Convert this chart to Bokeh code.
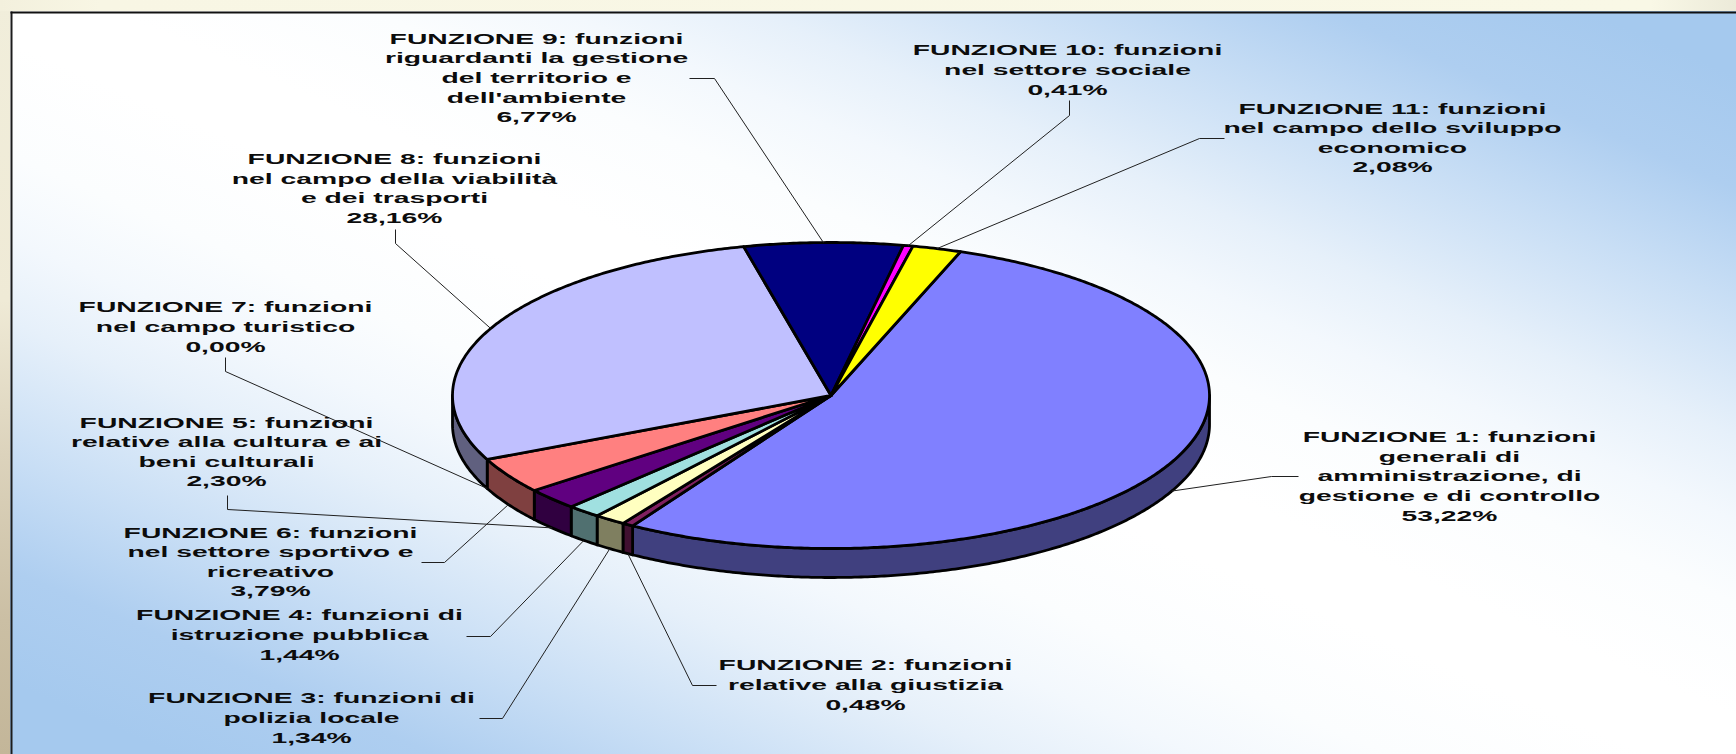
import math
from bokeh.core.properties import value
from bokeh.embed import file_html
from bokeh.models import ColumnDataSource, Range1d
from bokeh.plotting import figure
from bokeh.resources import INLINE

# ---- chart data -----------------------------------------------------------
percent = [53.22, 0.48, 1.34, 1.44, 2.30, 3.79, 0.00, 28.16, 6.77, 0.41, 2.08]
top_colors = ["#8080FF", "#802060", "#FFFFC0", "#A0E0E0", "#600080", "#FF8080",
              "#0080C0", "#C0C0FF", "#000080", "#FF00FF", "#FFFF00"]
names = [
    "FUNZIONE 1: funzioni\ngenerali di\namministrazione, di\ngestione e di controllo",
    "FUNZIONE 2: funzioni\nrelative alla giustizia",
    "FUNZIONE 3: funzioni di\npolizia locale",
    "FUNZIONE 4: funzioni di\nistruzione pubblica",
    "FUNZIONE 5: funzioni\nrelative alla cultura e ai\nbeni culturali",
    "FUNZIONE 6: funzioni\nnel settore sportivo e\nricreativo",
    "FUNZIONE 7: funzioni\nnel campo turistico",
    "FUNZIONE 8: funzioni\nnel campo della viabilità\ne dei trasporti",
    "FUNZIONE 9: funzioni\nriguardanti la gestione\ndel territorio e\ndell'ambiente",
    "FUNZIONE 10: funzioni\nnel settore sociale",
    "FUNZIONE 11: funzioni\nnel campo dello sviluppo\neconomico",
]

# ---- layout (page pixels; Bokeh's page template has no body margin) ---------
W, H = 1736, 754
CX, CY, RX, RY, DEPTH = 830.5, 395.0, 378.5, 153.0, 29.0
FIRST_ANGLE = 20.0
label_x = [1449, 865, 311, 299, 226, 270, 225, 394, 536, 1067, 1392]
label_y = [476, 684.5, 717.5, 634.5, 451.5, 561.5, 326.5, 188, 77.5, 69.5, 137.5]
# leader: start of stub, elbow; the far end is derived from the slice angle
leader_stub = [(1298, 476), (716, 685), (479, 718), (466, 636), (227, 495), (421, 562),
               (225, 357), (395, 229), (689, 78), (1069, 100), (1224, 138)]
leader_elbow = [(1271, 476), (692, 685), (502, 718), (490, 636), (227, 509), (444, 562),
                (225, 371), (395, 243), (714, 78), (1069, 115), (1199, 138)]
FONT_PX = 14
STRETCH = 2.02


def fy(y):
    return H - y


def pt(deg, dy=0.0):
    a = math.radians(deg)
    return CX + RX * math.sin(a), CY - RY * math.cos(a) + dy


def darker(c):
    return "#%02X%02X%02X" % tuple(int(c[i:i + 2], 16) // 2 for i in (1, 3, 5))


p = figure(width=W, height=H, output_backend="svg",
           toolbar_location=None, min_border=0,
           x_range=Range1d(0, W), y_range=Range1d(0, H))
p.axis.visible = False
p.grid.visible = False
p.outline_line_color = None
p.background_fill_alpha = 0
p.border_fill_alpha = 0

# panel edge
p.line([11, 11], [fy(11), fy(760)], line_color="#1c1c1c", line_width=2)
p.line([10, 1740], [fy(12), fy(12)], line_color="#111111", line_width=2)

# slice spans
total = sum(percent)
spans = []
acc = 0.0
for v in percent:
    a0 = FIRST_ANGLE + acc / total * 360
    acc += v
    spans.append((a0, FIRST_ANGLE + acc / total * 360))

# side walls (visible for angles between 90 and 270 degrees)
side_x, side_y, side_c = [], [], []
for (a0, a1), c in zip(spans, top_colors):
    for lo, hi in ((a0, a1), (a0 - 360, a1 - 360)):
        s0, s1 = max(lo, 90), min(hi, 270)
        if s1 <= s0:
            continue
        n = max(2, int(s1 - s0) * 2)
        ang = [s0 + (s1 - s0) * i / n for i in range(n + 1)]
        upper = [pt(t) for t in ang]
        lower = [pt(t, DEPTH) for t in reversed(ang)]
        side_x.append([q[0] for q in upper + lower])
        side_y.append([fy(q[1]) for q in upper + lower])
        side_c.append(darker(c))
p.patches("x", "y", fill_color="c", line_color="#000000", line_width=2.8, line_join="round",
          source=ColumnDataSource(dict(x=side_x, y=side_y, c=side_c)))

# top faces
top_x, top_y, top_c = [], [], []
for (a0, a1), c in zip(spans, top_colors):
    if a1 - a0 <= 0:
        continue
    n = max(2, int(a1 - a0) * 2)
    arc = [pt(a0 + (a1 - a0) * i / n) for i in range(n + 1)]
    poly = [(CX, CY)] + arc
    top_x.append([q[0] for q in poly])
    top_y.append([fy(q[1]) for q in poly])
    top_c.append(c)
p.patches("x", "y", fill_color="c", line_color="#000000", line_width=2.8, line_join="round",
          source=ColumnDataSource(dict(x=top_x, y=top_y, c=top_c)))

# leaders
lead_x, lead_y = [], []
for (a0, a1), s, e in zip(spans, leader_stub, leader_elbow):
    mid = (a0 + a1) / 2
    end = pt(mid, DEPTH if 90 < (mid % 360) < 270 else 0)
    lead_x.append([s[0], e[0], end[0]])
    lead_y.append([fy(s[1]), fy(e[1]), fy(end[1])])
p.multi_line(lead_x, lead_y, line_color="#202020", line_width=1)

# labels
texts = [n + "\n" + f"{v:.2f}".replace(".", ",") + "%" for n, v in zip(names, percent)]
p.text(x=label_x, y=[fy(y) for y in label_y], text=texts,
       text_font=value("Liberation Sans"), text_font_style="bold",
       text_font_size=f"{FONT_PX}px", text_color="#0c0c0c",
       text_align="center", text_baseline="middle", text_line_height=1.22)

# ---- page background and horizontal stretch of the labels -----------------
BLUE = (0xA5, 0xC9, 0xEE)
mix_table = [(0.05, 0), (0.2, 0.04), (0.31, 0.13), (0.42, 0.28), (0.6, 0.61), (0.75, 0.9), (0.9, 1)]


def css_col(m):
    return "rgb(%d,%d,%d)" % tuple(round(255 + (b - 255) * m) for b in BLUE)


stops = [(-s, m) for s, m in reversed(mix_table)] + mix_table
stop_css = ",".join(f"{css_col(m)} {(s + 1) * 50:.1f}%" for s, m in stops)
left_css = ("linear-gradient(to bottom,#f1eedb 0,#efead6 300px,#dcd3bc 454px,"
            "#cbbfa4 620px,#c3b699 754px) 0 0/10px 754px no-repeat")
top_css = "linear-gradient(to right,#f3f0dd 0,#f8f6e4 100px,#f9f8e6 1650px,#ecead9 1736px) 0 0/100% 11px no-repeat"
style = (f"<style>html{{height:100%;overflow:hidden;background:{top_css},{left_css},"
         f"linear-gradient(to top right,{stop_css});}}</style>")
script = """<script>
(function(){var S=%s,n=0;
function walk(r,o){r.querySelectorAll('*').forEach(function(e){
 if(e.tagName==='text')o.push(e); if(e.shadowRoot)walk(e.shadowRoot,o);});return o;}
function run(){walk(document,[]).forEach(function(t){
 if(t.getAttribute('lengthAdjust'))return;
 var w=t.getComputedTextLength(); if(!w)return;
 var x=parseFloat(t.getAttribute('x')||'0');
 if(getComputedStyle(t).textAnchor==='start')t.setAttribute('x',x-w*(S-1)/2);
 t.setAttribute('textLength',w*S); t.setAttribute('lengthAdjust','spacingAndGlyphs');});
 if(++n<200)setTimeout(run,25);}
run();})();
</script>""" % STRETCH

html = file_html(p, INLINE)
html = html.replace("</head>", style + "</head>", 1).replace("</body>", script + "</body>", 1)
open("out.html", "w").write(html)
